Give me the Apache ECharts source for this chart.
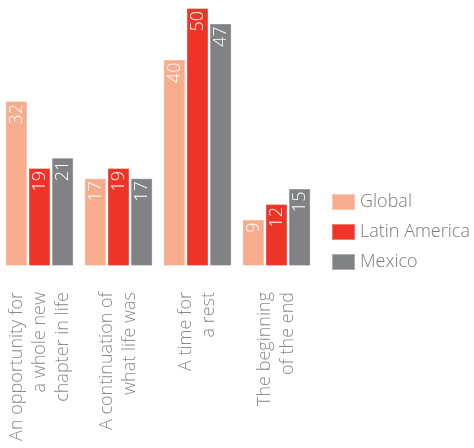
<!DOCTYPE html>
<html>
<head>
<meta charset="utf-8">
<script src="https://cdn.jsdelivr.net/npm/echarts@6/dist/echarts.min.js"></script>
<style>
  html, body { margin: 0; padding: 0; background: #fff; }
  #chart { width: 474px; height: 448px; }
</style>
</head>
<body>
<div id="chart"></div>
<script>
// How people see retirement (%)
const categories = [
  'An opportunity for\na whole new\nchapter in life',
  'A continuation of\nwhat life was',
  'A time for\na rest',
  'The beginning\nof the end'
];
const seriesNames = ['Global', 'Latin America', 'Mexico'];
const globalValues = [32, 17, 40, 9];
const latinAmericaValues = [19, 19, 50, 12];
const mexicoValues = [21, 17, 47, 15];

const colors = ['#F7AC8E', '#EE3427', '#818285'];
const fontFamily = '"Open Sans", Roboto, sans-serif';

const chart = echarts.init(document.getElementById('chart'), null, { renderer: 'canvas' });

function barSeries(name, values, color) {
  return {
    name: name,
    type: 'bar',
    data: values,
    barWidth: 22,
    barGap: '5%',
    itemStyle: { color: color, borderColor: 'rgba(255,255,255,0.35)', borderWidth: 1 },
    label: {
      show: true,
      position: 'insideTop',
      rotate: 90,
      align: 'right',
      verticalAlign: 'middle',
      distance: 3,
      color: '#ffffff',
      fontSize: 18,
      fontFamily: fontFamily,
      fontWeight: 300
    }
  };
}

chart.setOption({
  animation: false,
  color: colors,
  grid: { left: -1, right: 158, top: 8, bottom: 182, containLabel: false },
  legend: {
    orient: 'vertical',
    left: 326,
    top: 188,
    icon: 'rect',
    itemWidth: 23,
    itemHeight: 16,
    itemGap: 12,
    data: seriesNames,
    textStyle: { color: '#7a7a7a', fontSize: 18, fontFamily: fontFamily, fontWeight: 300 }
  },
  xAxis: {
    type: 'category',
    data: categories,
    axisLine: { show: false },
    axisTick: { show: false },
    axisLabel: {
      rotate: 90,
      margin: 26,
      align: 'right',
      color: '#8a8a8a',
      fontSize: 18,
      lineHeight: 23,
      fontFamily: fontFamily,
      fontWeight: 300,
      interval: 0
    }
  },
  yAxis: {
    type: 'value',
    min: 0,
    max: 50,
    show: false,
    splitLine: { show: false }
  },
  series: [
    barSeries(seriesNames[0], globalValues, colors[0]),
    barSeries(seriesNames[1], latinAmericaValues, colors[1]),
    barSeries(seriesNames[2], mexicoValues, colors[2])
  ]
});
</script>
</body>
</html>
